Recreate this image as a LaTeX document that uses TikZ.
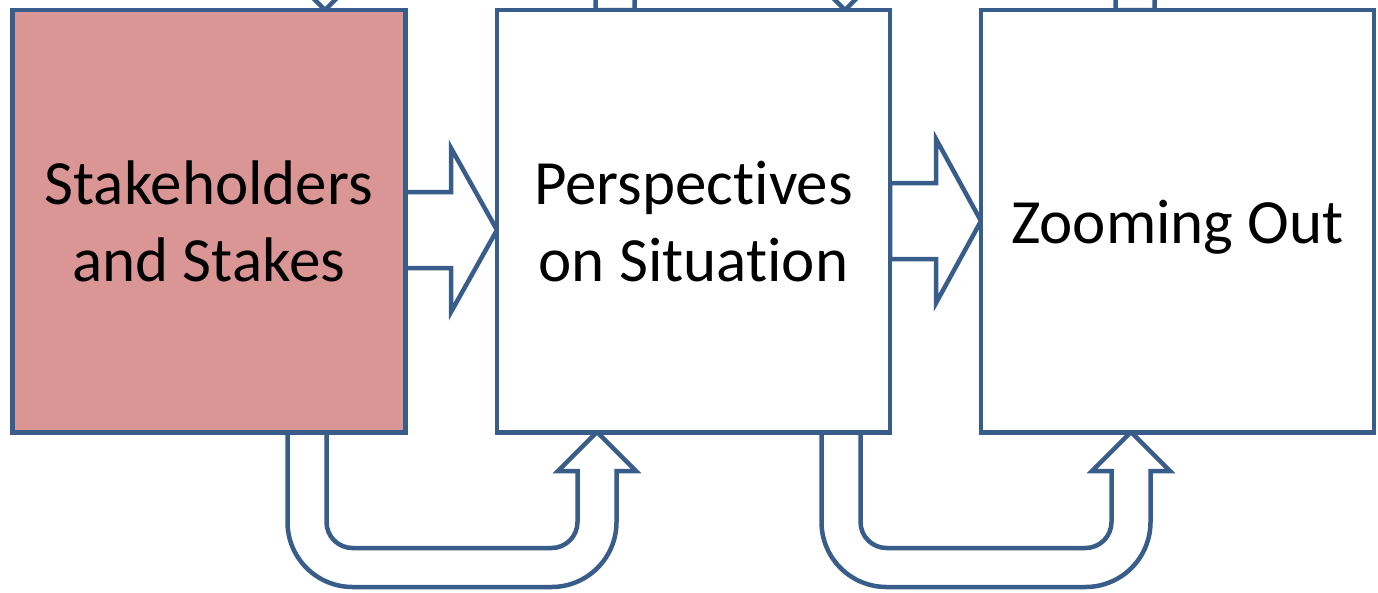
\documentclass[tikz,border=0pt]{standalone}
\usepackage{fontspec}
\setmainfont{Carlito}[Ligatures={NoCommon}]
\usetikzlibrary{calc}
\definecolor{edge}{HTML}{385D8A}
\definecolor{rose}{HTML}{D99694}

% U-turn block arrow, local origin at the arrow tip (pointing up, y grows downward)
\newcommand\uturnpath{%
  (-270.5,0) -- (-270.5,90)
  .. controls (-270.5,104.36) and (-258.86,116) .. (-244.5,116)
  -- (-45.5,116)
  .. controls (-31.14,116) and (-19.5,104.36) .. (-19.5,90)
  -- (-19.5,39) -- (-39,39) -- (0,0) -- (39,39) -- (19.5,39)
  -- (19.5,90)
  .. controls (19.5,125.9) and (-9.6,155) .. (-45.5,155)
  -- (-244.5,155)
  .. controls (-280.4,155) and (-309.5,125.9) .. (-309.5,90)
  -- (-309.5,0) -- cycle}

\begin{document}
\begin{tikzpicture}[x=1pt,y=-1pt,
  stagebox/.style={draw=edge, line width=4.5pt, fill=white,
    minimum width=393pt, minimum height=422.5pt, inner sep=0pt,
    align=center, font=\fontsize{63}{77}\selectfont},
  blockarrow/.style={draw=edge, line width=4.5pt, fill=white, line join=miter}]
\useasboundingbox (0,0) rectangle (1378,592);
\clip (0,0) rectangle (1378,592);

% box positions (drawn last so their borders cover the arrow roots)
\path (208.75,221.25) coordinate (c1) (693.5,221.25) coordinate (c2) (1177.5,221.25) coordinate (c3);

% U-turn arrows below the row
\path[blockarrow, shift={(597,432)}] \uturnpath;
\path[blockarrow, shift={(1131,432)}] \uturnpath;
% U-turn arrows above the row (mostly outside the frame)
\path[blockarrow, shift={(325,10)}, rotate=180] \uturnpath;
\path[blockarrow, shift={(845,10)}, rotate=180] \uturnpath;

% straight block arrows between neighbouring boxes
\path[blockarrow] (405.25,192) -- (451,192) -- (451,148) -- (497,230)
  -- (451,312) -- (451,268) -- (405.25,268) -- cycle;
\path[blockarrow] (890,183) -- (936,183) -- (936,139) -- (981,221)
  -- (936,303) -- (936,259) -- (890,259) -- cycle;

% the three stages
\node[stagebox, fill=rose] (b1) at (c1) {Stakeholders\\and Stakes};
\node[stagebox] (b2) at (c2) {Perspectives\\on Situation};
\node[stagebox, text height=50pt, text depth=6pt] (b3) at (c3) {Zooming Out};
\end{tikzpicture}
\end{document}
